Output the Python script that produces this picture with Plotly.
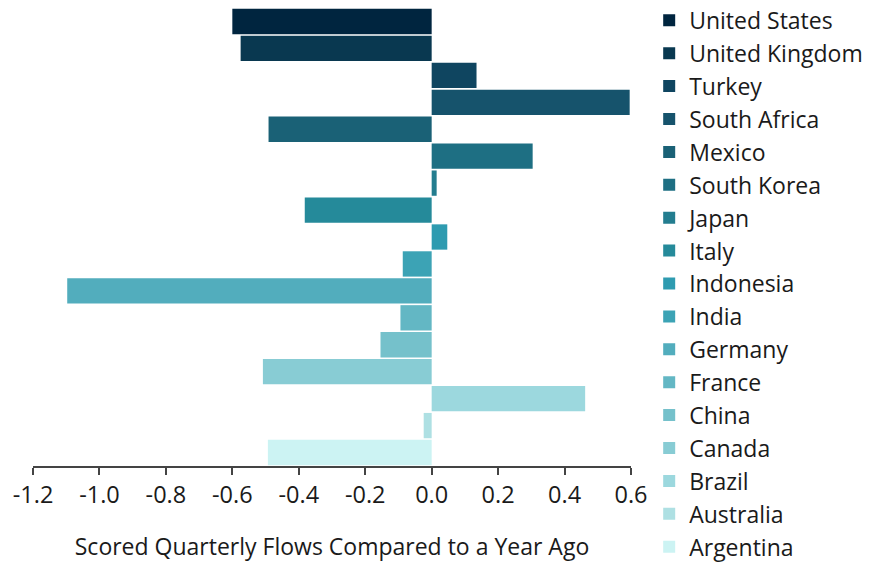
import plotly.graph_objects as go

countries = ["United States", "United Kingdom", "Turkey", "South Africa", "Mexico",
             "South Korea", "Japan", "Italy", "Indonesia", "India", "Germany",
             "France", "China", "Canada", "Brazil", "Australia", "Argentina"]
values = [-0.60, -0.575, 0.135, 0.596, -0.491, 0.304, 0.015, -0.382, 0.047,
          -0.087, -1.097, -0.094, -0.154, -0.508, 0.462, -0.024, -0.493]
colors = ["#00253F", "#093850", "#0F4560", "#16536C", "#1A6176", "#1E6F83",
          "#237D8F", "#258A9A", "#2E9BB0", "#3CA3B5", "#52ADBD", "#63B7C4",
          "#75C1CB", "#88CCD4", "#9CD8DE", "#AEE0E3", "#CCF3F3"]
tick_vals = [-1.2, -1.0, -0.8, -0.6, -0.4, -0.2, 0.0, 0.2, 0.4, 0.6]
tick_text = ["-1.2", "-1.0", "-0.8", "-0.6", "-0.4", "-0.2", "0.0", "0.2", "0.4", "0.6"]

fig = go.Figure()
for c, v, col in zip(countries, values, colors):
    fig.add_trace(go.Bar(x=[v], y=[c], orientation="h", name=c,
                         marker=dict(color=col, line=dict(width=0)),
                         legendgroup=c))

fig.update_layout(
    width=870, height=556,
    margin=dict(l=25, r=247, t=0, b=98, autoexpand=False),
    paper_bgcolor="white", plot_bgcolor="white",
    font=dict(family="Open Sans", size=21, color="#1a1a1a"),
    barmode="overlay", bargap=0.06,
    showlegend=True,
    legend=dict(x=0.737, xref="container", xanchor="left",
                y=1.02, yref="paper", yanchor="top",
                traceorder="normal", tracegroupgap=0, maxheight=700,
                font=dict(size=23), bgcolor="rgba(0,0,0,0)"),
    xaxis=dict(range=[-1.2, 0.6], tickvals=tick_vals, ticktext=tick_text,
               showline=True, linecolor="#444", linewidth=2,
               ticks="outside", ticklen=7, tickcolor="#444", tickwidth=1.5,
               showgrid=False, zeroline=False, tickfont=dict(size=23.5),
               title=dict(text="Scored Quarterly Flows Compared to a Year Ago",
                          font=dict(size=23), standoff=30)),
    yaxis=dict(categoryorder="array", categoryarray=countries,
               autorange="reversed", showticklabels=False, showgrid=False,
               zeroline=False, showline=False, ticks=""),
)

fig.write_html("out.html")
